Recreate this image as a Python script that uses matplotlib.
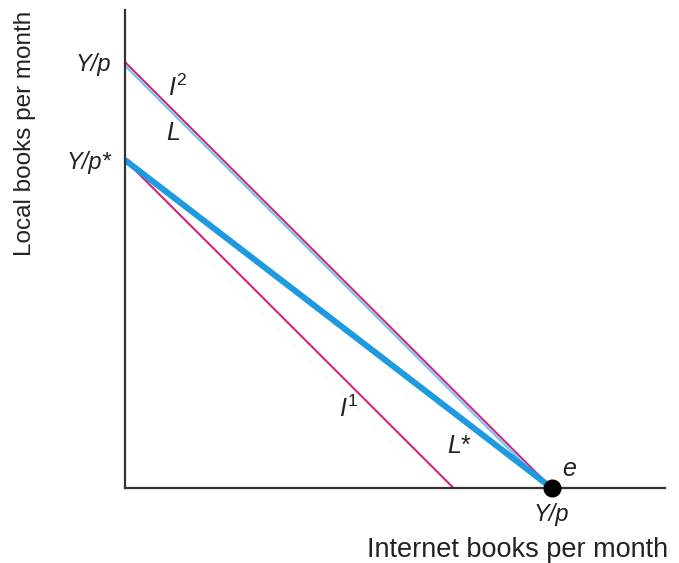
import matplotlib
matplotlib.use('Agg')
import matplotlib.pyplot as plt
from matplotlib.transforms import offset_copy

plt.rcParams['font.family'] = ['Liberation Sans', 'DejaVu Sans']
plt.rcParams['mathtext.fontset'] = 'custom'
plt.rcParams['mathtext.rm'] = 'Liberation Sans'
plt.rcParams['mathtext.it'] = 'Liberation Sans:italic'

# Budget / indifference lines (intercepts in books per month)
Y_p = 10.0       # Y/p
Y_pstar = 7.7    # Y/p*

L_x = [0, Y_p]
L_y = [Y_p, 0]
Lstar_x = [0, Y_p]
Lstar_y = [Y_pstar, 0]
I1_x = [0, Y_pstar]
I1_y = [Y_pstar, 0]
I2_x = [0, Y_p]
I2_y = [Y_p, 0]
e_point = (Y_p, 0)

magenta = '#d4237a'
blue = '#1e9be0'
light_blue = '#7cc6f0'
ink = '#222222'

fig = plt.figure(figsize=(6.79, 5.63), dpi=100)
ax = fig.add_axes([0.184, 0.1332, 0.795, 0.849])

# L sits just under I2
ax.plot(L_x, L_y, color=light_blue, lw=1.8,
        transform=offset_copy(ax.transData, fig=fig, x=-1.5, y=-2.0, units='dots'))
ax.plot(I2_x, I2_y, color=magenta, lw=1.4)
ax.plot(I1_x, I1_y, color=magenta, lw=1.5)
ax.plot(Lstar_x, Lstar_y, color=blue, lw=4.4, solid_capstyle='butt')
ax.plot(*e_point, 'o', color='black', ms=12, clip_on=False, zorder=5)

ax.set_xlim(0, 12.65)
ax.set_ylim(0, 11.22)

for side in ['top', 'right']:
    ax.spines[side].set_visible(False)
for side in ['left', 'bottom']:
    ax.spines[side].set_color('#333333')
    ax.spines[side].set_linewidth(1.6)

ax.set_xticks([Y_p])
ax.set_xticklabels(['Y/p'], fontsize=17, style='italic', color=ink)
ax.set_yticks([Y_pstar, Y_p])
ax.set_yticklabels(['Y/p*', 'Y/p'], fontsize=17, style='italic', color=ink)
ax.tick_params(axis='both', length=0)
ax.tick_params(axis='y', pad=10)
ax.tick_params(axis='x', pad=11)

fig.text(518 / 679, 1 - 550 / 563, 'Internet books per month', fontsize=19.5,
         color=ink, ha='center', va='center')
fig.text(25 / 679, 1 - 133 / 563, 'Local books per month', fontsize=17.5,
         color=ink, ha='center', va='center', rotation=90)

ax.text(1.24, 9.39, r'$I^2$', fontsize=18, color=ink, ha='center', va='center')
ax.text(1.12, 8.33, r'$L$', fontsize=18, color=ink, ha='center', va='center')
ax.text(5.25, 1.85, r'$I^1$', fontsize=18, color=ink, ha='center', va='center')
ax.text(7.85, 0.98, r'$L$*', fontsize=18, color=ink, ha='center', va='center')
ax.text(10.42, 0.45, r'$e$', fontsize=18, color=ink, ha='center', va='center')

fig.savefig('out.png', dpi=100)
